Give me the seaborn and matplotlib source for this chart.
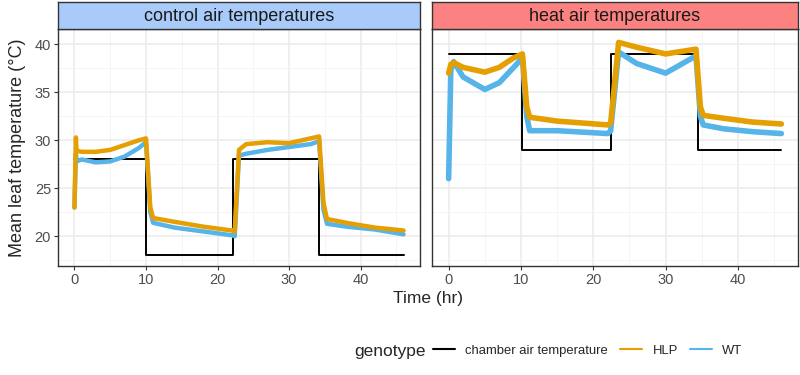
import pandas as pd
import numpy as np
import matplotlib
matplotlib.use("Agg")
import matplotlib.pyplot as plt
import seaborn as sns

# ------------------------------------------------------------------
# Data
# ------------------------------------------------------------------
panels = ["control air temperatures", "heat air temperatures"]
strip_colors = ["#A9CBFA", "#FC8181"]

# chamber set-points (step function)
chamber_t = [0, 10, 10, 22.2, 22.2, 34.2, 34.2, 46]
chamber_control = [28, 28, 18, 18, 28, 28, 18, 18]
chamber_t_heat = [0, 10.2, 10.2, 22.4, 22.4, 34.5, 34.5, 46]
chamber_heat = [39, 39, 29, 29, 39, 39, 29, 29]

# control panel leaf temperatures
ctrl_t = [0, 0.2, 0.3, 1, 3, 5, 7, 9, 10, 10.6, 11, 14, 18, 22, 22.4, 23, 24, 27,
          30, 33, 34.2, 34.8, 35.3, 38, 42, 46]
ctrl_hlp = [23.0, 30.3, 28.9, 28.8, 28.8, 29.0, 29.5, 30.0, 30.2, 23.0, 21.9, 21.5,
            21.0, 20.6, 20.5, 29.0, 29.6, 29.8, 29.7, 30.2, 30.4, 23.5, 21.8, 21.4,
            20.9, 20.6]
ctrl_wt = [23.0, 28.6, 27.8, 28.0, 27.7, 27.8, 28.3, 29.2, 29.8, 22.5, 21.4, 20.9,
           20.5, 20.1, 20.0, 28.4, 28.6, 29.0, 29.3, 29.6, 29.9, 22.8, 21.3, 21.0,
           20.7, 20.2]

# heat panel leaf temperatures
heat_t = [0, 0.3, 0.7, 2, 5, 7, 9, 10.2, 10.8, 11.2, 15, 22, 22.4, 23.5, 26, 30,
          34.2, 34.8, 35.2, 38, 42, 46]
heat_hlp = [37.0, 37.9, 38.1, 37.6, 37.1, 37.6, 38.6, 39.0, 33.5, 32.4, 32.0, 31.6,
            31.8, 40.2, 39.7, 39.0, 39.5, 33.5, 32.6, 32.3, 31.9, 31.7]
heat_wt = [26.0, 37.3, 38.2, 36.6, 35.3, 36.0, 37.6, 38.6, 32.5, 31.0, 31.0, 30.7,
           31.0, 39.2, 38.0, 37.0, 38.8, 32.5, 31.6, 31.2, 30.9, 30.7]

genotypes = ["chamber air temperature", "HLP", "WT"]
palette = {"chamber air temperature": "black", "HLP": "#E69F00", "WT": "#56B4E9"}


def make_df(t_ch, ch, t, hlp, wt):
    # draw order: chamber underneath, WT, then HLP
    parts = [
        pd.DataFrame({"time": t_ch, "temp": ch, "genotype": "chamber air temperature"}),
        pd.DataFrame({"time": t, "temp": wt, "genotype": "WT"}),
        pd.DataFrame({"time": t, "temp": hlp, "genotype": "HLP"}),
    ]
    return parts


panel_data = [
    make_df(chamber_t, chamber_control, ctrl_t, ctrl_hlp, ctrl_wt),
    make_df(chamber_t_heat, chamber_heat, heat_t, heat_hlp, heat_wt),
]
line_widths = [[1.4, 3.2, 3.2], [1.4, 4.0, 4.0]]

# ------------------------------------------------------------------
# Plot
# ------------------------------------------------------------------
sns.set_theme(style="white")
plt.rcParams["font.family"] = ["Liberation Sans", "DejaVu Sans"]

fig = plt.figure(figsize=(8, 3.75), dpi=100)
panel_x = [(0.0725, 0.4525), (0.54, 0.4575)]
bottom, height = 0.2907, 0.632
strip_h = 0.072

for i, (name, parts) in enumerate(zip(panels, panel_data)):
    x0, w = panel_x[i]
    ax = fig.add_axes([x0, bottom, w, height])
    for df, lw in zip(parts, line_widths[i]):
        g = df["genotype"].iloc[0]
        sns.lineplot(data=df, x="time", y="temp", color=palette[g], lw=lw,
                     sort=False, estimator=None, ax=ax, legend=False)
    ax.set_xlim(-2.3, 48.3)
    ax.set_ylim(16.9, 41.6)
    ax.set_xticks([0, 10, 20, 30, 40])
    ax.set_yticks([20, 25, 30, 35, 40])
    ax.set_xticks([5, 15, 25, 35, 45], minor=True)
    ax.set_yticks([17.5, 22.5, 27.5, 32.5, 37.5], minor=True)
    ax.grid(which="major", color="#EBEBEB", lw=1.1)
    ax.grid(which="minor", color="#F4F4F4", lw=0.6)
    ax.set_axisbelow(True)
    for s in ax.spines.values():
        s.set_color("#333333")
        s.set_linewidth(1.0)
    ax.tick_params(axis="both", which="major", length=3, width=0.8, color="#333333",
                   labelsize=10.5, labelcolor="#4D4D4D", pad=2, bottom=True, left=True)
    ax.tick_params(which="minor", length=0)
    ax.set_xlabel("")
    ax.set_ylabel("")
    if i == 1:
        ax.set_yticklabels([])
        ax.tick_params(axis="y", which="major", length=0)

    # facet strip
    sax = fig.add_axes([x0, bottom + height, w, strip_h])
    sax.set_facecolor(strip_colors[i])
    sax.set_xticks([])
    sax.set_yticks([])
    for s in sax.spines.values():
        s.set_color("#333333")
        s.set_linewidth(1.0)
    sax.text(0.5, 0.47, name, ha="center", va="center", fontsize=13,
             color="#1A1A1A", transform=sax.transAxes)

fig.text(0.022, bottom + height / 2, "Mean leaf temperature (°C)", rotation=90,
         ha="center", va="center", fontsize=13)
fig.text(0.535, 0.205, "Time (hr)", ha="center", va="center", fontsize=12.5)

# legend (title placed to the left, as in ggplot bottom legends)
handles = [plt.Line2D([], [], color=palette[g], lw=1.5) for g in genotypes]
fig.legend(handles, genotypes, loc="center left", bbox_to_anchor=(0.541, 0.065),
           ncol=3, frameon=False, fontsize=9.4, handlelength=1.7, handletextpad=0.8,
           columnspacing=0.9, borderpad=0, borderaxespad=0)
fig.text(0.4425, 0.063, "genotype", ha="left", va="center", fontsize=12.5)

fig.savefig("out.png", dpi=100)
